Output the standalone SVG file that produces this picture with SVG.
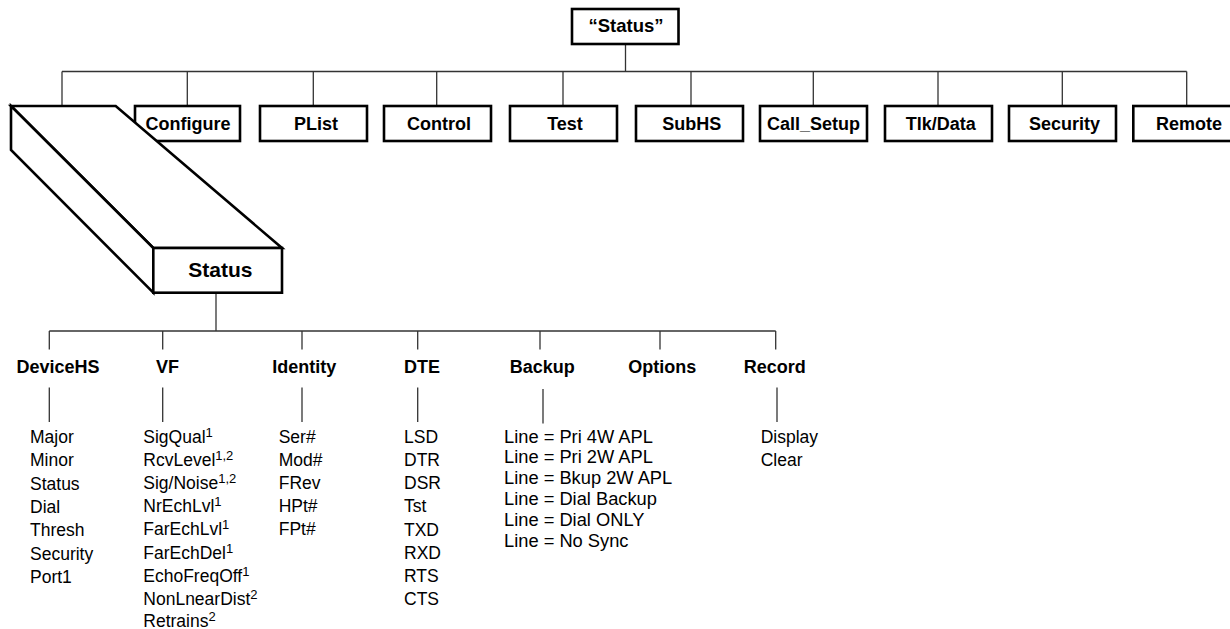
<svg xmlns="http://www.w3.org/2000/svg" width="1230" height="629" viewBox="0 0 1230 629">
<style>
.box{fill:#fff;stroke:#000;stroke-width:2.6}
.b3d{fill:#fff;stroke:#000;stroke-width:2.6;stroke-linejoin:miter}
.t{font-family:"Liberation Sans",Arial,sans-serif;font-weight:bold;font-size:18px;fill:#000;text-anchor:middle}
.h{font-family:"Liberation Sans",Arial,sans-serif;font-weight:bold;font-size:18px;fill:#000;text-anchor:middle}
.i{font-family:"Liberation Sans",Arial,sans-serif;font-size:17.5px;fill:#000}
.bk{font-family:"Liberation Sans",Arial,sans-serif;font-size:18.3px;fill:#000}
.sup{font-size:13px}
#connectors line{stroke:#333;stroke-width:1.3;fill:none}
</style>
<rect width="1230" height="629" fill="#fff"/>
<g id="connectors">
<line x1="625.5" y1="44" x2="625.5" y2="71.5"/>
<line x1="62" y1="71.5" x2="1186.7" y2="71.5"/>
<line x1="62" y1="71.5" x2="62" y2="106"/>
<line x1="187.3" y1="71.5" x2="187.3" y2="106"/>
<line x1="313.3" y1="71.5" x2="313.3" y2="106"/>
<line x1="436.7" y1="71.5" x2="436.7" y2="106"/>
<line x1="563" y1="71.5" x2="563" y2="106"/>
<line x1="691" y1="71.5" x2="691" y2="106"/>
<line x1="813.3" y1="71.5" x2="813.3" y2="106"/>
<line x1="938" y1="71.5" x2="938" y2="106"/>
<line x1="1062.3" y1="71.5" x2="1062.3" y2="106"/>
<line x1="1186.7" y1="71.5" x2="1186.7" y2="106"/>
<line x1="216" y1="292.7" x2="216" y2="331"/>
<line x1="49.3" y1="331" x2="775.7" y2="331"/>
<line x1="49.3" y1="331" x2="49.3" y2="349.5"/>
<line x1="162.7" y1="331" x2="162.7" y2="349.5"/>
<line x1="302" y1="331" x2="302" y2="349.5"/>
<line x1="417.7" y1="331" x2="417.7" y2="349.5"/>
<line x1="540" y1="331" x2="540" y2="349.5"/>
<line x1="660" y1="331" x2="660" y2="349.5"/>
<line x1="775.7" y1="331" x2="775.7" y2="349.5"/>
<line x1="49.3" y1="387.5" x2="49.3" y2="422"/>
<line x1="162.7" y1="387.5" x2="162.7" y2="422"/>
<line x1="302" y1="387.5" x2="302" y2="422"/>
<line x1="417.7" y1="387.5" x2="417.7" y2="422"/>
<line x1="543" y1="389" x2="543" y2="423.5"/>
<line x1="777" y1="387.5" x2="777" y2="422"/>
</g>
<g id="root"><rect class="box" x="572" y="9" width="106.5" height="35"/><text class="t" x="626" y="32" style="font-size:18.5px">“Status”</text></g>
<g id="configure"><rect class="box" x="135" y="106" width="105" height="35"/><text class="t" x="188" y="129.5">Configure</text></g>
<g id="plist"><rect class="box" x="260" y="106" width="107" height="35"/><text class="t" x="316" y="129.5">PList</text></g>
<g id="control"><rect class="box" x="384" y="106" width="107" height="35"/><text class="t" x="439" y="129.5">Control</text></g>
<g id="test"><rect class="box" x="510" y="106" width="107" height="35"/><text class="t" x="565" y="129.5">Test</text></g>
<g id="subhs"><rect class="box" x="636" y="106" width="107" height="35"/><text class="t" x="691.7" y="129.5">SubHS</text></g>
<g id="callsetup"><rect class="box" x="760" y="106" width="107" height="35"/><text class="t" x="813.5" y="129.5">Call_Setup</text></g>
<g id="tlkdata"><rect class="box" x="885" y="106" width="107" height="35"/><text class="t" x="940.8" y="129.5">Tlk/Data</text></g>
<g id="security"><rect class="box" x="1009" y="106" width="107" height="35"/><text class="t" x="1064.5" y="129.5">Security</text></g>
<g id="remote"><rect class="box" x="1133.3" y="106" width="107" height="35"/><text class="t" x="1189" y="129.5">Remote</text></g>
<g id="status3d">
<polygon class="b3d" points="11,106 115.7,106 282,248 153.3,248"/>
<polygon class="b3d" points="11,106 153.3,248 153.3,292.7 11,150"/>
<rect class="box" x="153.3" y="248" width="128.7" height="44.7"/>
<text class="t" x="220.3" y="276.7" style="font-size:21px">Status</text>
</g>
<g id="devicehs"><text class="h" x="58" y="372.7">DeviceHS</text>
<text class="i" x="30" y="443">Major<tspan x="30" dy="23.3">Minor</tspan><tspan x="30" dy="23.3">Status</tspan><tspan x="30" dy="23.3">Dial</tspan><tspan x="30" dy="23.3">Thresh</tspan><tspan x="30" dy="23.3">Security</tspan><tspan x="30" dy="23.3">Port1</tspan></text></g>
<g id="vf"><text class="h" x="167.5" y="372.7">VF</text>
<text class="i" x="143.3" y="443">SigQual<tspan class="sup" dy="-6">1</tspan></text>
<text class="i" x="143.3" y="466.1">RcvLevel<tspan class="sup" dy="-6">1,2</tspan></text>
<text class="i" x="143.3" y="489.2">Sig/Noise<tspan class="sup" dy="-6">1,2</tspan></text>
<text class="i" x="143.3" y="512.3">NrEchLvl<tspan class="sup" dy="-6">1</tspan></text>
<text class="i" x="143.3" y="535.4">FarEchLvl<tspan class="sup" dy="-6">1</tspan></text>
<text class="i" x="143.3" y="558.5">FarEchDel<tspan class="sup" dy="-6">1</tspan></text>
<text class="i" x="143.3" y="581.6">EchoFreqOff<tspan class="sup" dy="-6">1</tspan></text>
<text class="i" x="143.3" y="604.7">NonLnearDist<tspan class="sup" dy="-6">2</tspan></text>
<text class="i" x="143.3" y="627">Retrains<tspan class="sup" dy="-6">2</tspan></text></g>
<g id="identity"><text class="h" x="304.2" y="372.7">Identity</text>
<text class="i" x="278.7" y="443">Ser#<tspan x="278.7" dy="23.1">Mod#</tspan><tspan x="278.7" dy="23.1">FRev</tspan><tspan x="278.7" dy="23.1">HPt#</tspan><tspan x="278.7" dy="23.1">FPt#</tspan></text></g>
<g id="dte"><text class="h" x="422" y="372.7">DTE</text>
<text class="i" x="404" y="443">LSD<tspan x="404" dy="23.15">DTR</tspan><tspan x="404" dy="23.15">DSR</tspan><tspan x="404" dy="23.15">Tst</tspan><tspan x="404" dy="23.15">TXD</tspan><tspan x="404" dy="23.15">RXD</tspan><tspan x="404" dy="23.15">RTS</tspan><tspan x="404" dy="23.15">CTS</tspan></text></g>
<g id="backup"><text class="h" x="542.2" y="373.4">Backup</text>
<text class="bk" x="504" y="442.5">Line = Pri 4W APL<tspan x="504" dy="20.85">Line = Pri 2W APL</tspan><tspan x="504" dy="20.85">Line = Bkup 2W APL</tspan><tspan x="504" dy="20.85">Line = Dial Backup</tspan><tspan x="504" dy="20.85">Line = Dial ONLY</tspan><tspan x="504" dy="20.85">Line = No Sync</tspan></text></g>
<g id="options"><text class="h" x="662.2" y="372.7">Options</text></g>
<g id="record"><text class="h" x="774.7" y="372.7">Record</text>
<text class="i" x="760.7" y="443">Display<tspan x="760.7" dy="23.3">Clear</tspan></text></g>
</svg>
